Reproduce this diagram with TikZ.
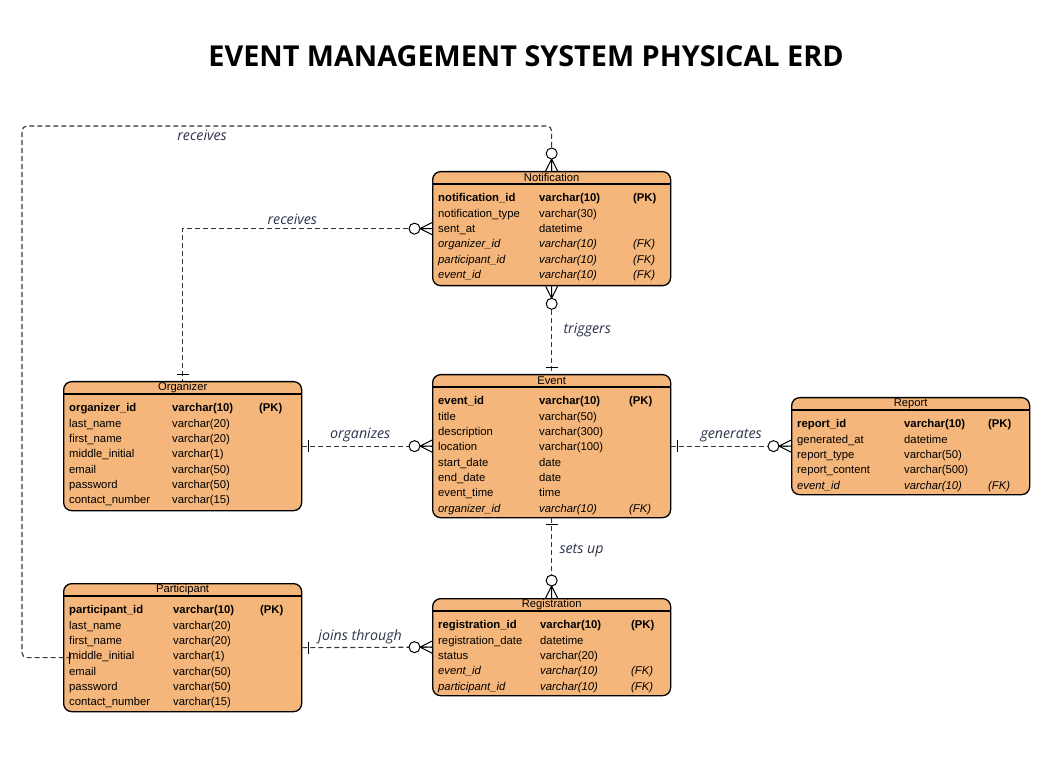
\documentclass[tikz,border=0pt]{standalone}
\usepackage{fontspec}
\usepackage{array}
\setmainfont{Liberation Sans}
\newfontfamily\opensans{Open Sans}
\usetikzlibrary{positioning}
\definecolor{entityorange}{RGB}{244,182,122}
\definecolor{relgray}{RGB}{55,55,55}
\definecolor{labelslate}{RGB}{45,52,75}
\tikzset{
    entity-box/.style = {draw=black, fill=entityorange, line width=1.3pt, rectangle, rounded corners=8pt, anchor=north west, minimum width=238pt, inner sep=0pt},
    entity-title/.style = {font=\fontsize{11.2}{12}\selectfont, inner sep=0pt},
    entity-rows/.style = {anchor=north west, inner sep=0pt, font=\fontsize{11.3}{15.3}\selectfont},
    rel-line/.style = {draw=relgray, line width=1.1pt, dash pattern=on 5pt off 3pt},
    rel-label/.style = {text=labelslate, font=\opensans\itshape\fontsize{14.2}{17}\selectfont},
    end-mark/.style = {draw=black, line width=1pt, solid},
}
% table: name, x, y, height, title, column widths, rows
\newcommand{\entity}[8]{%
  \node[entity-box, minimum height=#4pt] (#1) at (#2,#3) {};
  \node[entity-title] (#1-title) at ([yshift=-6.5pt]#1.north) {#5};
  \draw[line width=1.3pt] ([yshift=-13pt]#1.north west) -- ([yshift=-13pt]#1.north east);
  \node[entity-rows] (#1-rows) at ([xshift=6pt, yshift=-20pt]#1.north west)
    {\begin{tabular}{@{}p{#6pt}@{}p{#7pt}@{}l@{}}#8\end{tabular}};
}
% ends: anchor on the table, direction away from it
\newcommand{\zeromany}[2]{%
  \begin{scope}[shift={(#1)}, rotate=#2]
    \draw[end-mark] (12,0) -- (0,6) (12,0) -- (0,-6) (12,0) -- (0,0);
    \draw[end-mark, fill=white] (17.5,0) circle (5.5pt);
  \end{scope}}
\newcommand{\onemark}[2]{%
  \begin{scope}[shift={(#1)}, rotate=#2]
    \draw[end-mark] (6,-6) -- (6,6);
  \end{scope}}

\begin{document}
\begin{tikzpicture}[x=1pt, y=-1pt]
\fill[white] (0,0) rectangle (1053,767);
\useasboundingbox (0,0) rectangle (1053,767);

\node[font=\opensans\bfseries\fontsize{28.8}{32}\selectfont] (title) at (526,56) {EVENT MANAGEMENT SYSTEM PHYSICAL ERD};

\entity{notif}{432}{171}{114}{Notification}{101}{94}{%
  \textbf{notification\_id} & \textbf{varchar(10)} & \textbf{(PK)}\\
  notification\_type & varchar(30) & \\
  sent\_at & datetime & \\
  \textit{organizer\_id} & \textit{varchar(10)} & \textit{(FK)}\\
  \textit{participant\_id} & \textit{varchar(10)} & \textit{(FK)}\\
  \textit{event\_id} & \textit{varchar(10)} & \textit{(FK)}}

\entity{event}{432}{374}{143}{Event}{101}{90}{%
  \textbf{event\_id} & \textbf{varchar(10)} & \textbf{(PK)}\\
  title & varchar(50) & \\
  description & varchar(300) & \\
  location & varchar(100) & \\
  start\_date & date & \\
  end\_date & date & \\
  event\_time & time & \\
  \textit{organizer\_id} & \textit{varchar(10)} & \textit{(FK)}}

\entity{org}{63}{381}{129}{Organizer}{103}{87}{%
  \textbf{organizer\_id} & \textbf{varchar(10)} & \textbf{(PK)}\\
  last\_name & varchar(20) & \\
  first\_name & varchar(20) & \\
  middle\_initial & varchar(1) & \\
  email & varchar(50) & \\
  password & varchar(50) & \\
  contact\_number & varchar(15) & }

\entity{part}{63}{583}{128}{Participant}{104}{87}{%
  \textbf{participant\_id} & \textbf{varchar(10)} & \textbf{(PK)}\\
  last\_name & varchar(20) & \\
  first\_name & varchar(20) & \\
  middle\_initial & varchar(1) & \\
  email & varchar(50) & \\
  password & varchar(50) & \\
  contact\_number & varchar(15) & }

\entity{reg}{432}{598}{97}{Registration}{102}{91}{%
  \textbf{registration\_id} & \textbf{varchar(10)} & \textbf{(PK)}\\
  registration\_date & datetime & \\
  status & varchar(20) & \\
  \textit{event\_id} & \textit{varchar(10)} & \textit{(FK)}\\
  \textit{participant\_id} & \textit{varchar(10)} & \textit{(FK)}}

\entity{report}{791}{397}{97}{Report}{107}{84}{%
  \textbf{report\_id} & \textbf{varchar(10)} & \textbf{(PK)}\\
  generated\_at & datetime & \\
  report\_type & varchar(50) & \\
  report\_content & varchar(500) & \\
  \textit{event\_id} & \textit{varchar(10)} & \textit{(FK)}}

% relationships
\coordinate (loop-top) at (22,126);
\coordinate (part-in) at ([yshift=-10pt]part.west);
\draw[rel-line, rounded corners=5pt] (notif.north) |- node[rel-label, pos=0.83, below] (lbl-receives-part) {receives} (loop-top) |- ([xshift=6pt]part-in);
\draw[rel-line] (notif.west) -| node[rel-label, pos=0.28, above] (lbl-receives-org) {receives} (org.north);
\draw[rel-line] (notif.south) -- node[rel-label, right=8pt] (lbl-triggers) {triggers} (event.north);
\draw[rel-line] (org.east) -- node[rel-label, above, xshift=-7pt] (lbl-organizes) {organizes} (event.west);
\draw[rel-line] (event.east) -- node[rel-label, above] (lbl-generates) {generates} (report.west);
\draw[rel-line] (event.south) -- node[rel-label, pos=0.4, right=4pt] (lbl-setsup) {sets up} (reg.north);
\draw[rel-line] (part.east) -- node[rel-label, above, xshift=-7pt] (lbl-joins) {joins through} (reg.west);

\zeromany{notif.north}{90}
\onemark{part-in}{0}
\zeromany{notif.west}{180}
\onemark{org.north}{90}
\zeromany{notif.south}{270}
\onemark{event.north}{90}
\onemark{org.east}{0}
\zeromany{event.west}{180}
\onemark{event.east}{0}
\zeromany{report.west}{180}
\onemark{event.south}{270}
\zeromany{reg.north}{90}
\onemark{part.east}{0}
\zeromany{reg.west}{180}
\end{tikzpicture}
\end{document}
